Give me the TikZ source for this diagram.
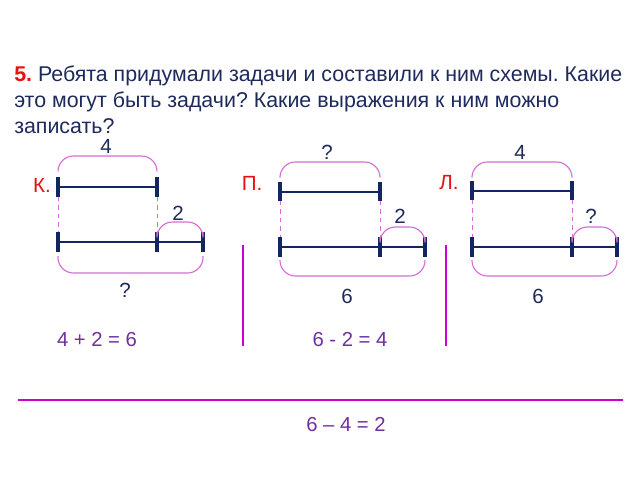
\documentclass[tikz,border=0pt]{standalone}
\usepackage{fontspec}
\setmainfont{Liberation Sans}
\usepackage{xcolor}
\definecolor{navy}{RGB}{31,42,92}
\definecolor{segcol}{RGB}{18,38,96}
\definecolor{bracecol}{RGB}{214,110,214}
\definecolor{barcol}{RGB}{204,0,204}
\definecolor{eqcol}{RGB}{112,48,160}
\definecolor{redcol}{RGB}{232,16,16}
\frenchspacing

\begin{document}
\begin{tikzpicture}[x=0.025cm,y=-0.025cm]
\tikzstyle{every node}=[font=\fontsize{14.6}{18.5}\selectfont, text=navy, inner sep=0pt]
\tikzstyle{segline}=[segcol, line width=1.9pt]
\tikzstyle{tick}=[segcol, line width=2.3pt]
\tikzstyle{guide}=[bracecol, dashed, line width=0.6pt]
\tikzstyle{arcline}=[bracecol, line width=0.8pt, rounded corners=11pt]
\tikzstyle{bar}=[barcol, line width=2pt]
\tikzstyle{eqtext}=[text=eqcol, font=\fontsize{14.4}{16}\selectfont]

\fill[white] (0,0) rectangle (640,480);

\node[anchor=north west, align=left, font=\fontsize{15.2}{18.5}\selectfont] (task) at (14,66)
    {\textcolor{redcol}{\textbf{5.}} Ребята придумали задачи и составили к ним схемы. Какие\\
     это могут быть задачи? Какие выражения к ним можно\\
     записать?};

% К.
\draw[segline] (58,187) -- (157,187);
\draw[tick] (58,177) -- (58,197);
\draw[tick] (157,177) -- (157,197);
\draw[segline] (58,242) -- (203,242);
\draw[tick] (58,232) -- (58,252);
\draw[tick] (157,232) -- (157,252);
\draw[tick] (203,232) -- (203,252);
\draw[guide] (58,197) -- (58,232);
\draw[guide] (157,197) -- (157,232);
\draw[arcline] (58,171) -- (58,156) -- (157,156) -- (157,171);
\draw[arcline] (157,232) -- (157,222) -- (203,222) -- (203,232);
\draw[arcline] (58,256) -- (58,273) -- (203,273) -- (203,256);
    \node[text=redcol] (kName) at (42,185) {К.};
    \node (kTop) at (106,146) {4};
    \node (kPart) at (178,213) {2};
    \node (kSum) at (125,290) {?};

% П.
\draw[segline] (280,192) -- (380,192);
\draw[tick] (280,182) -- (280,201);
\draw[tick] (380,182) -- (380,201);
\draw[segline] (280,247) -- (425,247);
\draw[tick] (280,237) -- (280,257);
\draw[tick] (380,237) -- (380,257);
\draw[tick] (425,237) -- (425,257);
\draw[guide] (280,201) -- (280,237);
\draw[guide] (380,201) -- (380,237);
\draw[arcline] (280,176) -- (280,162) -- (380,162) -- (380,176);
\draw[arcline] (380,237) -- (380,227) -- (425,227) -- (425,237);
\draw[arcline] (280,260) -- (280,276) -- (425,276) -- (425,260);
    \node[text=redcol] (pName) at (252,183) {П.};
    \node (pTop) at (327,152) {?};
    \node (pPart) at (400,216) {2};
    \node (pSum) at (347,296) {6};

% Л.
\draw[segline] (472,191) -- (572,191);
\draw[tick] (472,181) -- (472,200);
\draw[tick] (572,181) -- (572,200);
\draw[segline] (472,247) -- (617,247);
\draw[tick] (472,237) -- (472,257);
\draw[tick] (572,237) -- (572,257);
\draw[tick] (617,237) -- (617,257);
\draw[guide] (472,200) -- (472,237);
\draw[guide] (572,200) -- (572,237);
\draw[arcline] (472,176) -- (472,162) -- (572,162) -- (572,176);
\draw[arcline] (572,237) -- (572,227) -- (617,227) -- (617,237);
\draw[arcline] (472,260) -- (472,276) -- (617,276) -- (617,260);
    \node[text=redcol] (lName) at (449,183) {Л.};
    \node (lTop) at (520,152) {4};
    \node (lPart) at (591,216) {?};
    \node (lSum) at (538,296) {6};

% expressions
\draw[bar] (243,245) -- (243,346);
\draw[bar] (446,245) -- (446,346);
\draw[bar] (18,400) -- (623,400);
    \node[eqtext] (eqK) at (97,340) {4 + 2 = 6};
    \node[eqtext] (eqP) at (350,340) {6 - 2 = 4};
    \node[eqtext] (eqL) at (346,425) {6 – 4 = 2};

\end{tikzpicture}
\end{document}
